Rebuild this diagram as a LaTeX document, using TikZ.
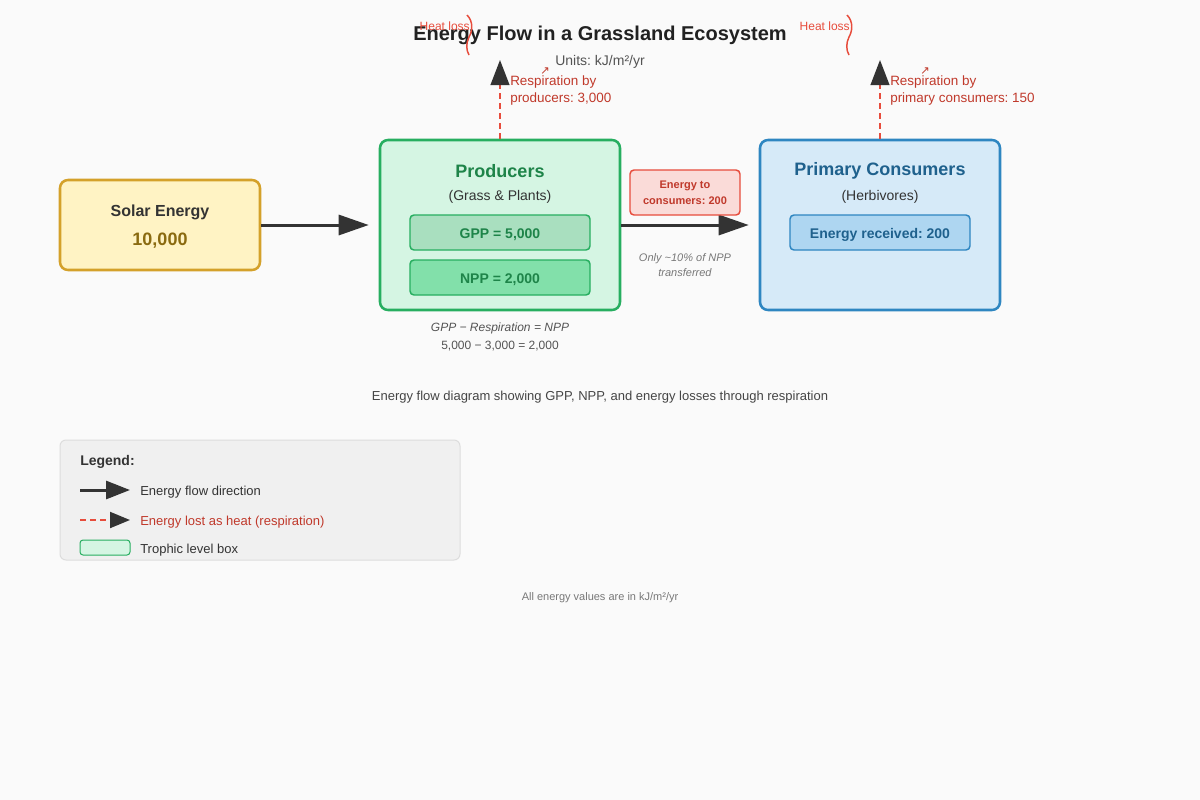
\documentclass[tikz,border=0pt]{standalone}
\usepackage{fontspec}
\setmainfont{Liberation Sans}
\newfontfamily\arrowfont{DejaVu Sans}
\usepackage{tikz}
\usetikzlibrary{arrows.meta,positioning}
\definecolor{bg}{HTML}{FAFAFA}
\definecolor{ink}{HTML}{333333}
\definecolor{sunfill}{HTML}{FFF3C4}
\definecolor{sunline}{HTML}{D4A12A}
\definecolor{suntext}{HTML}{8A6A10}
\definecolor{grfill}{HTML}{D5F5E3}
\definecolor{grline}{HTML}{27AE60}
\definecolor{grtext}{HTML}{1E8449}
\definecolor{gppfill}{HTML}{A9DFBF}
\definecolor{nppfill}{HTML}{82E0AA}
\definecolor{blfill}{HTML}{D6EAF8}
\definecolor{blline}{HTML}{2E86C1}
\definecolor{bltext}{HTML}{1F618D}
\definecolor{recfill}{HTML}{AED6F1}
\definecolor{heat}{HTML}{E74C3C}
\definecolor{heattext}{HTML}{C0392B}
\definecolor{tagfill}{HTML}{FADBD8}
\definecolor{legfill}{HTML}{F0F0F0}
\definecolor{legline}{HTML}{DDDDDD}
\newcommand{\setfs}[2]{\fontsize{#1}{#2}\selectfont}
\frenchspacing

\begin{document}
\begin{tikzpicture}[x=0.75pt,y=-0.75pt,
    box/.style={draw,rounded corners=6pt,line width=1.9pt,inner sep=0pt},
    inbox/.style={draw,rounded corners=3pt,line width=1.1pt,minimum width=135pt,minimum height=26.25pt,inner sep=0pt,
                  text height=9pt,text depth=0pt,font=\bfseries\setfs{10.5}{12}},
    flow/.style={draw=ink,line width=2.25pt,-{Triangle[length=22.5pt,width=15pt]}},
    loss/.style={draw=heat,line width=1.5pt,dash pattern=on 4.5pt off 3pt,-{Triangle[length=18.75pt,width=14pt,color=ink]}},
    lbl/.style={inner sep=0pt,text=ink,yshift=-1.5pt}]
   \path[fill=bg] (0,0) rectangle (1200,800);
   % title
   \node[lbl,text=black!87,font=\bfseries\setfs{15}{18}] (title) at (600,33) {Energy Flow in a Grassland Ecosystem};
   \node[lbl,text=black!67,font=\setfs{10.5}{12}] (units) at (600,60) {Units: kJ/m²/yr};
   % boxes
   \node[box,draw=sunline,fill=sunfill,minimum width=150pt,minimum height=67.5pt] (solar) at (160,225) {};
   \node[lbl,font=\bfseries\setfs{12}{14}] (solart) at (160,210) {Solar Energy};
   \node[lbl,text=suntext,font=\bfseries\setfs{13.5}{16}] (solarv) at (160,239) {10,000};
   \node[box,draw=grline,fill=grfill,minimum width=180pt,minimum height=127.5pt] (prod) at (500,225) {};
   \node[lbl,text=grtext,font=\bfseries\setfs{13.5}{16}] (prodt) at (500,169) {Producers};
   \node[lbl,font=\setfs{10.5}{12}] (prods) at (500,195) {(Grass \& Plants)};
   \node[inbox,draw=grline,fill=gppfill,text=grtext] (gpp) at (500,232.5) {GPP = 5,000};
   \node[inbox,draw=grline,fill=nppfill,text=grtext] (npp) at (500,277.5) {NPP = 2,000};
   \node[lbl,text=black!67,font=\itshape\setfs{9}{11}] (eq1) at (500,326) {GPP − Respiration = NPP};
   \node[lbl,text=black!67,font=\setfs{9}{11}] (eq2) at (500,344) {5,000 − 3,000 = 2,000};
   \node[box,draw=blline,fill=blfill,minimum width=180pt,minimum height=127.5pt] (cons) at (880,225) {};
   \node[lbl,text=bltext,font=\bfseries\setfs{13.5}{16}] (const) at (880,169) {Primary Consumers};
   \node[lbl,font=\setfs{10.5}{12}] (conss) at (880,195) {(Herbivores)};
   \node[inbox,draw=blline,fill=recfill,text=bltext] (recv) at (880,232.5) {Energy received: 200};
   % flows
   \draw[flow] (solar.east) -- ([xshift=-7.5pt]prod.west);
   \draw[flow] (prod.east) -- ([xshift=-7.5pt]cons.west);
   \node[draw=heat,fill=tagfill,rounded corners=3pt,line width=1.1pt,minimum width=82.5pt,minimum height=33.75pt,inner sep=0pt,
         align=center,text=heattext,font=\bfseries\setfs{8.25}{12}] (tag) at (685,192.5) {Energy to\\consumers: 200};
   \node[lbl,text=black!53,align=center,font=\itshape\setfs{8.25}{11.25}] (only) at (685,263.5) {Only \textasciitilde10\% of NPP\\transferred};
   % respiration
   \foreach \x/\n/\t in {500/prod/{producers: 3,000},880/cons/{primary consumers: 150}}
     {\coordinate (top\n) at (\x,60);
      \draw[loss] (\n.north) -- (top\n);
      \node[lbl,text=heattext,anchor=west,align=left,font=\setfs{10.1}{12.75}] (resp\n) at (\x+10,88.5) {Respiration by\\\t};
      \node[lbl,text=heattext,font=\arrowfont\setfs{8.5}{9}] (tick\n) at (\x+45,69) {↗};
      \node[lbl,text=heat,anchor=east,font=\setfs{9}{11}] (heat\n) at (\x-30,24.5) {Heat loss};
      \draw[heat,line width=1.1pt] (\x-33,15) .. controls (\x-26,22) and (\x-28,32) .. (\x-31,37)
                                   .. controls (\x-34,43) and (\x-34,50) .. (\x-31,55);}
   \node[lbl,text=black!73,font=\setfs{9.75}{12}] (caption) at (600,395) {Energy flow diagram showing GPP, NPP, and energy losses through respiration};
   % legend
   \node[draw=legline,fill=legfill,rounded corners=4.5pt,line width=0.75pt,minimum width=300pt,minimum height=90pt] (legend) at (260,500) {};
   \node[lbl,anchor=west,font=\bfseries\setfs{10.5}{12}] (legt) at (80,460) {Legend:};
   \coordinate (f1) at (80,490); \coordinate (f2) at (130,490);
   \coordinate (h1) at (80,520); \coordinate (h2) at (130,520);
   \draw[flow,-{Triangle[length=18pt,width=13.5pt]}] (f1) -- (f2);
   \draw[loss,-{Triangle[length=15pt,width=12pt,color=ink]}] (h1) -- (h2);
   \node[draw=grline,fill=grfill,rounded corners=2.25pt,line width=0.75pt,minimum width=37.5pt,minimum height=11.25pt,inner sep=0pt] (lbox) at (105,547.5) {};
   \node[lbl,anchor=west,font=\setfs{9.75}{12}] (leg1) at (140,490) {Energy flow direction};
   \node[lbl,anchor=west,text=heattext,font=\setfs{9.75}{12}] (leg2) at (140,520) {Energy lost as heat (respiration)};
   \node[lbl,anchor=west,font=\setfs{9.75}{12}] (leg3) at (140,548) {Trophic level box};
   \node[lbl,text=black!53,font=\setfs{8.25}{10}] (footer) at (600,596) {All energy values are in kJ/m²/yr};
\end{tikzpicture}
\end{document}
